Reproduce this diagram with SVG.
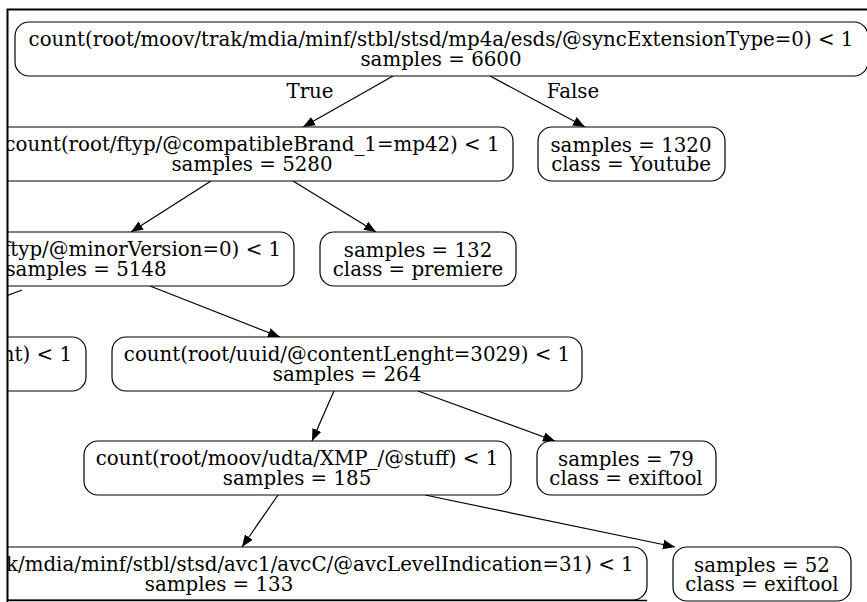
<svg xmlns="http://www.w3.org/2000/svg" width="867" height="602" viewBox="0 0 867 602">
  <style>
    .box { fill: #ffffff; stroke: #000000; stroke-width: 1.2; }
    .lbl { font-family: "DejaVu Serif", "Liberation Serif", serif; font-size: 19.8px; fill: #000000; text-anchor: middle; }
    .edge { stroke: #000000; stroke-width: 1.2; fill: none; marker-end: url(#arrow); }
    .frame { stroke: #000000; stroke-width: 2; fill: none; }
  </style>
  <defs>
    <marker id="arrow" viewBox="0 0 10 10" refX="10" refY="5" markerWidth="12" markerHeight="12" markerUnits="userSpaceOnUse" orient="auto">
      <path d="M0,1 L10,5 L0,9 Z" fill="#000000"/>
    </marker>
    <clipPath id="view">
      <rect x="7" y="9" width="870" height="600"/>
    </clipPath>
  </defs>
  <rect width="867" height="602" fill="#ffffff"/>

  <g clip-path="url(#view)">
    <g id="connectors">
      <line class="edge" x1="393" y1="76" x2="303" y2="127"/>
      <line class="edge" x1="490" y1="76" x2="585" y2="127"/>
      <line class="edge" x1="211" y1="181" x2="131" y2="232"/>
      <line class="edge" x1="293" y1="181" x2="376" y2="232"/>
      <line class="edge" x1="22" y1="290" x2="-40" y2="313"/>
      <line class="edge" x1="150" y1="286" x2="280" y2="337"/>
      <line class="edge" x1="334" y1="391" x2="312" y2="441"/>
      <line class="edge" x1="418" y1="391" x2="555" y2="441"/>
      <line class="edge" x1="278" y1="495" x2="242" y2="547"/>
      <line class="edge" x1="425" y1="495" x2="675" y2="547"/>
      <text class="lbl" x="310" y="98">True</text>
      <text class="lbl" x="573" y="98">False</text>
    </g>

    <g id="n0">
      <rect class="box" x="15" y="22" width="853" height="54" rx="14"/>
      <text class="lbl" x="441" y="46">count(root/moov/trak/mdia/minf/stbl/stsd/mp4a/esds/@syncExtensionType=0) &lt; 1</text>
      <text class="lbl" x="441" y="65.5">samples = 6600</text>
    </g>
    <g id="n1">
      <rect class="box" x="-9" y="127" width="522" height="54" rx="14"/>
      <text class="lbl" x="252" y="151">count(root/ftyp/@compatibleBrand_1=mp42) &lt; 1</text>
      <text class="lbl" x="252" y="170.5">samples = 5280</text>
    </g>
    <g id="n2">
      <rect class="box" x="538" y="127" width="187" height="54" rx="14"/>
      <text class="lbl" x="631" y="151.5">samples = 1320</text>
      <text class="lbl" x="631" y="171">class = Youtube</text>
    </g>
    <g id="n3">
      <rect class="box" x="-122" y="232" width="416" height="54" rx="14"/>
      <text class="lbl" x="86" y="256">count(root/ftyp/@minorVersion=0) &lt; 1</text>
      <text class="lbl" x="86" y="275.5">samples = 5148</text>
    </g>
    <g id="n4">
      <rect class="box" x="320" y="232" width="196" height="54" rx="14"/>
      <text class="lbl" x="418" y="256.5">samples = 132</text>
      <text class="lbl" x="418" y="276">class = premiere</text>
    </g>
    <g id="n5">
      <rect class="box" x="-300" y="337" width="386" height="54" rx="14"/>
      <text class="lbl" x="72" y="361" style="text-anchor:end">ent) &lt; 1</text>
    </g>
    <g id="n6">
      <rect class="box" x="112" y="337" width="470" height="54" rx="14"/>
      <text class="lbl" x="347" y="361">count(root/uuid/@contentLenght=3029) &lt; 1</text>
      <text class="lbl" x="347" y="380.5">samples = 264</text>
    </g>
    <g id="n7">
      <rect class="box" x="84" y="441" width="427" height="54" rx="14"/>
      <text class="lbl" x="297" y="465">count(root/moov/udta/XMP_/@stuff) &lt; 1</text>
      <text class="lbl" x="297" y="484.5">samples = 185</text>
    </g>
    <g id="n8">
      <rect class="box" x="537" y="441" width="179" height="54" rx="14"/>
      <text class="lbl" x="626" y="465.5">samples = 79</text>
      <text class="lbl" x="626" y="485">class = exiftool</text>
    </g>
    <g id="n9">
      <rect class="box" x="-209" y="547" width="856" height="53" rx="14"/>
      <text class="lbl" x="219" y="571">count(root/moov/trak/mdia/minf/stbl/stsd/avc1/avcC/@avcLevelIndication=31) &lt; 1</text>
      <text class="lbl" x="219" y="590.5">samples = 133</text>
    </g>
    <g id="n10">
      <rect class="box" x="673" y="547" width="178" height="54" rx="14"/>
      <text class="lbl" x="762" y="571.5">samples = 52</text>
      <text class="lbl" x="762" y="591">class = exiftool</text>
    </g>
  </g>

  <!-- viewport border -->
  <path class="frame" d="M867,9.5 H7.5 V602"/>
  <line x1="7" y1="600.5" x2="647" y2="600.5" stroke="#000000" stroke-width="1.5"/>
</svg>
